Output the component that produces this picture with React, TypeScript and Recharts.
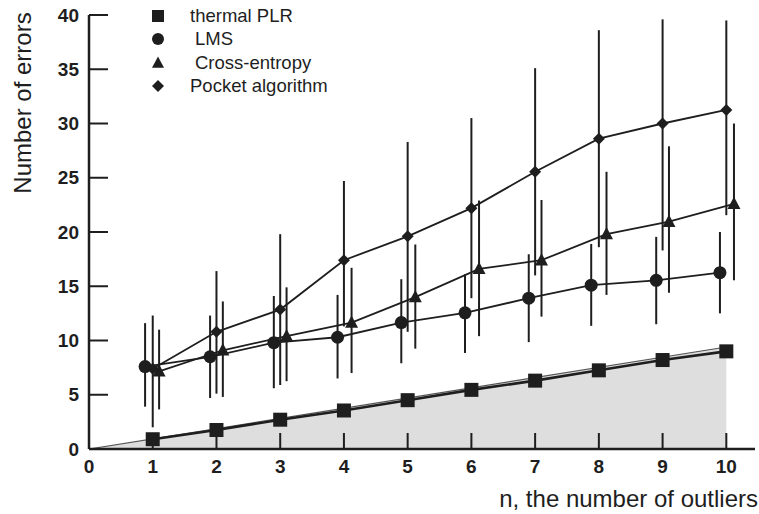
import React from "react";
import { ComposedChart, Line, Area, XAxis, YAxis, ErrorBar } from "recharts";

const FONT = "'Liberation Sans', Arial, Helvetica, sans-serif";
const INK = "#1e1e1e";

const xTicks = [0, 1, 2, 3, 4, 5, 6, 7, 8, 9, 10];
const yTicks = [0, 5, 10, 15, 20, 25, 30, 35, 40];

// thermal PLR
const thermalX = [1, 2, 3, 4, 5, 6, 7, 8, 9, 10];
const thermalY = [0.9, 1.75, 2.7, 3.55, 4.5, 5.45, 6.3, 7.25, 8.2, 9.0];

// shaded reference wedge
const shadeX = [0, 10];
const shadeY = [0, 9.4];

// LMS (drawn a little left of each n)
const lmsX = [0.88, 1.9, 2.9, 3.9, 4.9, 5.9, 6.9, 7.88, 8.9, 9.9];
const lmsY = [7.6, 8.5, 9.8, 10.3, 11.65, 12.55, 13.9, 15.1, 15.55, 16.25];
const lmsLow = [3.9, 4.7, 5.6, 6.5, 7.9, 8.85, 9.85, 11.35, 11.5, 12.5];
const lmsHigh = [11.6, 12.3, 14.1, 14.2, 15.65, 16.1, 17.95, 18.9, 19.55, 20.0];

// Cross-entropy (drawn a little right of each n)
const ceX = [1.1, 2.1, 3.1, 4.12, 5.12, 6.12, 7.1, 8.12, 9.1, 10.12];
const ceY = [7.15, 9.1, 10.4, 11.65, 14.0, 16.6, 17.4, 19.8, 20.95, 22.6];
const ceLow = [3.65, 4.8, 6.25, 7.0, 9.25, 10.4, 12.2, 14.2, 14.4, 15.55];
const ceHigh = [11.0, 13.6, 14.9, 16.7, 18.85, 22.9, 22.95, 25.55, 27.9, 30.0];

// Pocket algorithm
const pocketX = [1, 2, 3, 4, 5, 6, 7, 8, 9, 10];
const pocketY = [7.4, 10.8, 12.85, 17.4, 19.6, 22.2, 25.55, 28.6, 30.0, 31.25];
const pocketLow = [2.0, 5.1, 5.9, 11.3, 10.8, 13.9, 16.0, 18.6, 18.3, 21.55];
const pocketHigh = [12.3, 16.4, 19.8, 24.7, 28.3, 30.5, 35.1, 38.6, 39.6, 39.5];

const rows = (xs: number[], ys: number[], lo?: number[], hi?: number[]) =>
  xs.map((x, i) => ({
    x,
    y: ys[i],
    err: lo && hi ? [ys[i] - lo[i], hi[i] - ys[i]] : undefined,
  }));

const thermalRows = rows(thermalX, thermalY);
const shadeRows = rows(shadeX, shadeY);
const lmsRows = rows(lmsX, lmsY, lmsLow, lmsHigh);
const ceRows = rows(ceX, ceY, ceLow, ceHigh);
const pocketRows = rows(pocketX, pocketY, pocketLow, pocketHigh);

type Shape = "square" | "circle" | "triangle" | "diamond";

const Marker = ({ cx, cy, shape, size }: { cx: number; cy: number; shape: Shape; size: number }) => {
  if (cx == null || cy == null) return null;
  const h = size / 2;
  if (shape === "square") return <rect x={cx - h} y={cy - h} width={size} height={size} fill={INK} />;
  if (shape === "circle") return <circle cx={cx} cy={cy} r={h} fill={INK} />;
  if (shape === "triangle")
    return <polygon points={`${cx},${cy - h * 1.1} ${cx + h},${cy + h * 0.8} ${cx - h},${cy + h * 0.8}`} fill={INK} />;
  return <polygon points={`${cx},${cy - h} ${cx + h},${cy} ${cx},${cy + h} ${cx - h},${cy}`} fill={INK} />;
};

const dotOf = (shape: Shape, size: number, name: string) => (p: any) =>
  <Marker key={`${name}-${p.index}`} cx={p.cx} cy={p.cy} shape={shape} size={size} />;

const legendItems: { label: string; shape: Shape; indent: number }[] = [
  { label: "thermal PLR", shape: "square", indent: 0 },
  { label: "LMS", shape: "circle", indent: 5 },
  { label: "Cross-entropy", shape: "triangle", indent: 5 },
  { label: "Pocket algorithm", shape: "diamond", indent: 0 },
];

export default function App() {
  return (
    <div style={{ position: "absolute", left: 0, top: 0, width: 759, height: 514, background: "#fff", fontFamily: FONT }}>
      <ComposedChart width={759} height={514} margin={{ top: 15, right: 4, bottom: 0, left: 0 }}>
        <XAxis
          type="number"
          dataKey="x"
          domain={[0, 10.45]}
          ticks={xTicks}
          interval={0}
          allowDataOverflow
          height={65}
          tickSize={-16}
          tickMargin={27}
          axisLine={{ stroke: INK, strokeWidth: 2.5 }}
          tickLine={{ stroke: INK, strokeWidth: 2 }}
          tick={{ fill: INK, fontSize: 19, fontWeight: "bold", fontFamily: FONT }}
          label={{
            content: () => (
              <text x={758} y={507} textAnchor="end" fill={INK} fontSize={24} fontFamily={FONT}>
                n, the number of outliers
              </text>
            ),
          }}
        />
        <YAxis
          type="number"
          domain={[0, 40]}
          ticks={yTicks}
          interval={0}
          allowDataOverflow
          width={89}
          tickSize={-19}
          tickMargin={29}
          axisLine={{ stroke: INK, strokeWidth: 2.5 }}
          tickLine={{ stroke: INK, strokeWidth: 2 }}
          tick={{ fill: INK, fontSize: 19, fontWeight: "bold", fontFamily: FONT }}
          label={{
            content: () => (
              <text
                x={22}
                y={103}
                transform="rotate(-90, 22, 103)"
                textAnchor="middle"
                dominantBaseline="central"
                fill={INK}
                fontSize={24}
                fontFamily={FONT}
              >
                Number of errors
              </text>
            ),
          }}
        />
        <Area
          data={shadeRows}
          dataKey="y"
          type="linear"
          fill="#dedede"
          fillOpacity={1}
          stroke="#555"
          strokeWidth={1.2}
          isAnimationActive={false}
          activeDot={false}
        />
        <Line
          data={thermalRows}
          dataKey="y"
          type="linear"
          stroke={INK}
          strokeWidth={2.6}
          dot={dotOf("square", 14, "thermal")}
          activeDot={false}
          isAnimationActive={false}
        />
        <Line
          data={lmsRows}
          dataKey="y"
          type="linear"
          stroke={INK}
          strokeWidth={1.8}
          dot={dotOf("circle", 13, "lms")}
          activeDot={false}
          isAnimationActive={false}
        >
          <ErrorBar dataKey="err" direction="y" width={0} stroke={INK} strokeWidth={2} />
        </Line>
        <Line
          data={ceRows}
          dataKey="y"
          type="linear"
          stroke={INK}
          strokeWidth={1.8}
          dot={dotOf("triangle", 13, "ce")}
          activeDot={false}
          isAnimationActive={false}
        >
          <ErrorBar dataKey="err" direction="y" width={0} stroke={INK} strokeWidth={2} />
        </Line>
        <Line
          data={pocketRows}
          dataKey="y"
          type="linear"
          stroke={INK}
          strokeWidth={1.8}
          dot={dotOf("diamond", 12, "pocket")}
          activeDot={false}
          isAnimationActive={false}
        >
          <ErrorBar dataKey="err" direction="y" width={0} stroke={INK} strokeWidth={2} />
        </Line>
      </ComposedChart>
      <div style={{ position: "absolute", left: 150, top: 4.5 }}>
        {legendItems.map((it) => (
          <div key={it.label} style={{ display: "flex", alignItems: "center", height: 23.3 }}>
            <svg width={16} height={16} style={{ display: "block" }}>
              <Marker cx={8} cy={8} shape={it.shape} size={12} />
            </svg>
            <span style={{ marginLeft: 24 + it.indent, fontSize: 18.5, color: INK, whiteSpace: "nowrap" }}>{it.label}</span>
          </div>
        ))}
      </div>
    </div>
  );
}
